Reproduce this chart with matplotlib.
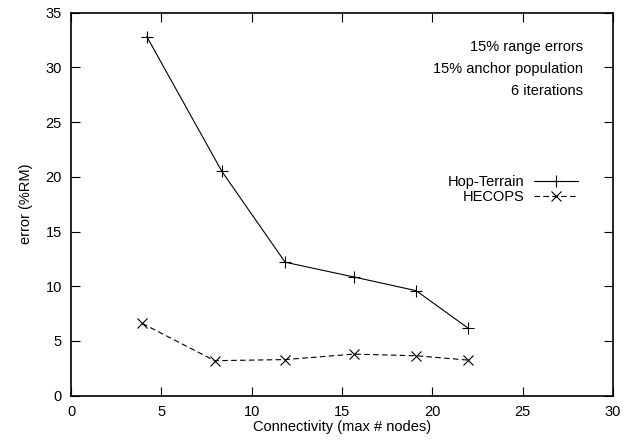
import numpy as np
import matplotlib.pyplot as plt

plt.rcParams['font.family'] = ['Liberation Sans', 'DejaVu Sans']
plt.rcParams['font.size'] = 10.5

# connectivity (x) and error (%RM)
hop_x = [4.2, 8.35, 11.85, 15.65, 19.1, 22.0]
hop_err = [32.8, 20.5, 12.2, 10.85, 9.6, 6.15]
hecops_x = [3.95, 7.95, 11.85, 15.65, 19.1, 22.0]
hecops_err = [6.6, 3.2, 3.3, 3.8, 3.65, 3.25]

notes = ["15% range errors", "15% anchor population", "6 iterations"]

fig = plt.figure(figsize=(6.34, 4.45), dpi=100)
ax = fig.add_axes([71 / 634, 1 - 395.7 / 445, 542 / 634, 383 / 445])

ax.plot(hop_x, hop_err, color='black', lw=0.8, marker='+', ms=8,
        mew=0.8, label='Hop-Terrain')
ax.plot(hecops_x, hecops_err, color='black', lw=0.8, ls=(0, (5, 3)),
        marker='x', ms=7, mew=0.8, label='HECOPS')

ax.set_xlim(0, 30)
ax.set_ylim(0, 35)
ax.set_xticks(np.arange(0, 31, 5))
ax.set_yticks(np.arange(0, 36, 5))
ax.tick_params(direction='in', length=6.5, width=0.8, top=True, right=True,
               pad=6.5)
for s in ax.spines.values():
    s.set_linewidth(1.2)

ax.set_xlabel('Connectivity (max # nodes)', labelpad=1)
ax.set_ylabel('error (%RM)', labelpad=9)

for i, t in enumerate(notes):
    ax.text(0.945, 0.91 - i * 0.057, t, transform=ax.transAxes,
            ha='right', va='center')

leg = ax.legend(loc='upper right', bbox_to_anchor=(0.946, 0.592),
                frameon=False, markerfirst=False, handlelength=3.0,
                handletextpad=0.65, labelspacing=0.1, borderaxespad=0)
# right-align the legend labels like gnuplot does
for col in leg._legend_box.get_children()[1].get_children():
    col.align = 'right'

fig.savefig('out.png', dpi=100)
